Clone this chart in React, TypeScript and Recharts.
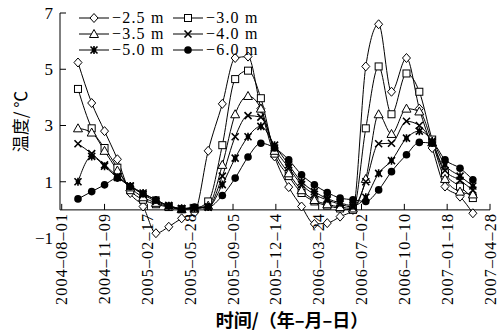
import React from 'react'
import { LineChart, Line, XAxis, YAxis, ReferenceLine, Legend } from 'recharts'

// measurement days, counted from 2004-08-01
const DAYS = [38, 70, 100, 130, 160, 190, 220, 250, 280, 310, 342, 375, 405, 435, 465, 497, 530, 560, 590, 620, 650, 680, 710, 740, 770, 805, 835, 865, 895, 930, 960]

// temperature (°C) at each depth
const D25 = [5.24, 3.8, 2.8, 1.8, 0.6, 0.12, -0.83, -0.6, -0.3, -0.1, 2.1, 3.77, 5.4, 5.45, 3.6, 1.9, 0.81, 0.12, -0.5, -0.47, -0.24, 0.0, 5.1, 6.6, 4.2, 5.4, 3.6, 2.2, 0.83, 0.47, -0.12]
const D30 = [4.3, 2.9, 2.2, 1.5, 0.7, 0.36, 0.2, 0.1, 0.02, 0.05, 0.3, 2.3, 4.65, 4.95, 3.97, 2.0, 1.2, 0.6, 0.3, 0.15, 0.05, 0.0, 2.9, 5.1, 3.4, 4.85, 4.2, 2.5, 1.3, 0.83, 0.42]
const D35 = [2.9, 2.75, 2.1, 1.4, 0.8, 0.45, 0.25, 0.12, 0.03, 0.05, 0.15, 1.6, 3.4, 4.05, 3.6, 2.1, 1.3, 0.7, 0.35, 0.2, 0.1, 0.05, 1.1, 3.4, 2.7, 3.6, 3.5, 2.4, 1.1, 0.65, 0.55]
const D40 = [2.35, 2.0, 1.6, 1.2, 0.85, 0.55, 0.3, 0.15, 0.05, 0.05, 0.1, 1.2, 2.6, 3.35, 3.3, 2.2, 1.5, 0.9, 0.55, 0.35, 0.2, 0.1, 1.0, 2.35, 2.37, 3.15, 3.0, 2.4, 1.4, 1.05, 0.7]
const D50 = [1.0, 1.9, 1.55, 1.15, 0.85, 0.6, 0.35, 0.15, 0.05, 0.07, 0.1, 0.9, 1.84, 2.6, 2.97, 2.3, 1.6, 1.0, 0.65, 0.4, 0.25, 0.15, 0.45, 1.3, 1.75, 2.55, 2.8, 2.45, 1.6, 1.2, 0.85]
const D60 = [0.39, 0.65, 0.89, 1.13, 0.83, 0.57, 0.36, 0.14, 0.03, 0.1, 0.1, 0.51, 1.13, 1.88, 2.37, 2.2, 1.78, 1.25, 0.89, 0.62, 0.42, 0.36, 0.3, 0.71, 1.36, 1.96, 2.4, 2.37, 1.78, 1.48, 1.07]

const TICK_DAYS = [0, 100, 200, 300, 400, 500, 600, 700, 800, 900, 1000]
const TICK_LABELS = ['2004–08–01', '2004–11–09', '2005–02–17', '2005–05–28', '2005–09–05', '2005–12–14', '2006–03–24', '2006–07–02', '2006–10–10', '2007–01–18', '2007–04–28']
const Y_TICKS = [7, 5, 3, 1, -1]

const SERIES = [
  { key: 'd25', name: '−2.5 m', values: D25, marker: 'diamond' },
  { key: 'd30', name: '−3.0 m', values: D30, marker: 'square' },
  { key: 'd35', name: '−3.5 m', values: D35, marker: 'triangle' },
  { key: 'd40', name: '−4.0 m', values: D40, marker: 'cross' },
  { key: 'd50', name: '−5.0 m', values: D50, marker: 'star' },
  { key: 'd60', name: '−6.0 m', values: D60, marker: 'circle' },
]

const rows = DAYS.map((day, i) => {
  const r: Record<string, number> = { day }
  SERIES.forEach(s => { r[s.key] = s.values[i] })
  return r
})

const W = 500
const H = 331
const TOP = 13
const X_AXIS_H = 93
const PLOT_H = H - TOP - X_AXIS_H
const Y_MIN = -1
const Y_MAX = 7
const X_MIN = -4
const ZERO_UP = PLOT_H * (0 - Y_MIN) / (Y_MAX - Y_MIN)

const SERIF = 'Liberation Serif'
const CJK = 'Noto Sans CJK SC'

function Marker({ kind, cx, cy }: { kind: string; cx: number; cy: number }) {
  switch (kind) {
    case 'diamond':
      return <path d={`M${cx},${cy - 4.5}L${cx + 4},${cy}L${cx},${cy + 4.5}L${cx - 4},${cy}Z`} fill="#fff" stroke="#000" strokeWidth={1} />
    case 'square':
      return <rect x={cx - 3.5} y={cy - 3.5} width={7} height={7} fill="#fff" stroke="#000" strokeWidth={1} />
    case 'triangle':
      return <path d={`M${cx},${cy - 4.5}L${cx + 4.5},${cy + 3.5}L${cx - 4.5},${cy + 3.5}Z`} fill="#fff" stroke="#000" strokeWidth={1} />
    case 'cross':
      return <path d={`M${cx - 3.5},${cy - 3.5}L${cx + 3.5},${cy + 3.5}M${cx - 3.5},${cy + 3.5}L${cx + 3.5},${cy - 3.5}`} stroke="#000" strokeWidth={1.6} fill="none" />
    case 'star':
      return (
        <g stroke="#000" strokeWidth={1.6}>
          <path d={`M${cx - 3.5},${cy - 3.5}L${cx + 3.5},${cy + 3.5}M${cx - 3.5},${cy + 3.5}L${cx + 3.5},${cy - 3.5}M${cx},${cy - 4}L${cx},${cy + 4}`} />
          <circle cx={cx} cy={cy} r={1.6} fill="#000" />
        </g>
      )
    default:
      return <circle cx={cx} cy={cy} r={3.8} fill="#000" />
  }
}

function XTick(props: any) {
  const { x, y, payload } = props
  const label = TICK_LABELS[TICK_DAYS.indexOf(payload.value)]
  const y0 = y - ZERO_UP
  return (
    <g transform={`translate(${x},${y0})`}>
      <line x1={0} x2={0} y1={0} y2={-6} stroke="#000" />
      <text transform="rotate(-90)" x={-3} dy="0.35em" textAnchor="end" fontSize={16} letterSpacing={1.2} fontFamily={SERIF} fill="#000">{label}</text>
    </g>
  )
}

function YTick(props: any) {
  const { x, y, payload } = props
  const v = payload.value
  return (
    <g>
      {v >= 0 && <line x1={x + 7} x2={x + 13} y1={y} y2={y} stroke="#000" />}
      <text x={x} y={y} dy="0.35em" textAnchor="end" fontSize={17} fontFamily={SERIF} fill="#000">{v < 0 ? '−' + Math.abs(v) : v}</text>
    </g>
  )
}

function YTitle(props: any) {
  const { viewBox } = props
  const cx = viewBox.x + 21
  const cy = viewBox.y + viewBox.height / 2 - 4
  return (
    <text x={cx} y={cy} transform={`rotate(-90 ${cx} ${cy})`} textAnchor="middle" dy="0.35em" fontSize={17} fontFamily={CJK} fill="#000">温度/ ℃</text>
  )
}

function XTitle(props: any) {
  const { viewBox } = props
  const cx = viewBox.x + viewBox.width / 2 + 17
  const by = viewBox.y + viewBox.height - 4
  return (
    <text x={cx} y={by} textAnchor="middle" fontSize={18} fontWeight={700} fontFamily={CJK} fill="#000">时间/（年–月–日）</text>
  )
}

function LegendBox() {
  return (
    <div style={{ display: 'grid', gridTemplateColumns: '94px 100px', fontFamily: SERIF, fontSize: 16, lineHeight: '16px', color: '#000' }}>
      {SERIES.map(s => (
        <div key={s.key} style={{ display: 'flex', alignItems: 'center', whiteSpace: 'nowrap', height: 16 }}>
          <svg width={32} height={14}>
            <line x1={1} x2={31} y1={7} y2={7} stroke="#000" />
            <Marker kind={s.marker} cx={16} cy={7} />
          </svg>
          <span style={{ marginLeft: 2, letterSpacing: 1.2 }}>{s.name}</span>
        </div>
      ))}
    </div>
  )
}

export default function App() {
  return (
    <div style={{ position: 'absolute', left: 0, top: 0, background: '#fff' }}>
      <LineChart width={W} height={H} data={rows} margin={{ top: TOP, right: 10, bottom: 0, left: 0 }}>
        <XAxis
          type="number"
          dataKey="day"
          domain={[X_MIN, 1000]}
          ticks={TICK_DAYS}
          interval={0}
          height={X_AXIS_H}
          axisLine={false}
          tickLine={false}
          tickSize={0}
          tickMargin={0}
          tick={XTick}
          label={<XTitle />}
        />
        <YAxis
          type="number"
          domain={[Y_MIN, Y_MAX]}
          ticks={Y_TICKS}
          interval={0}
          width={60}
          axisLine={false}
          tickLine={false}
          tickSize={0}
          tickMargin={7}
          tick={YTick}
          label={<YTitle />}
        />
        <ReferenceLine y={0} stroke="#000" strokeWidth={1} />
        <ReferenceLine segment={[{ x: X_MIN, y: 0 }, { x: X_MIN, y: Y_MAX }]} stroke="#000" strokeWidth={1} />
        <Legend
          content={<LegendBox />}
          layout="vertical"
          align="center"
          verticalAlign="middle"
          wrapperStyle={{ left: 78, top: 10, width: 'auto' }}
        />
        {SERIES.map(s => (
          <Line
            key={s.key}
            dataKey={s.key}
            name={s.name}
            type="monotone"
            stroke="#000"
            strokeWidth={1}
            isAnimationActive={false}
            activeDot={false}
            dot={(p: any) => <Marker key={`${s.key}-${p.index}`} kind={s.marker} cx={p.cx} cy={p.cy} />}
          />
        ))}
      </LineChart>
    </div>
  )
}
